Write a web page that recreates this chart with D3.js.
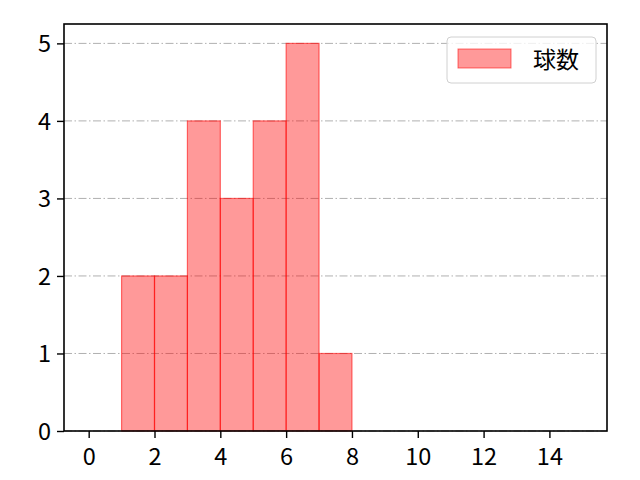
<!DOCTYPE html>
<html lang="ja">
<head>
<meta charset="UTF-8">
<title>球数</title>
<script src="https://d3js.org/d3.v7.min.js"></script>
<style>
  body { margin: 0; background: #fff; }
  svg { display: block; }
  .tick text { font-family: "Noto Sans CJK JP", sans-serif; font-size: 23.5px; fill: #000; }
  .grid line { stroke: #b0b0b0; stroke-width: 1; stroke-dasharray: 8 2.5 1.5 2.5; }
</style>
</head>
<body>
<svg width="640" height="480"></svg>
<script>
// histogram bins (left edge) and counts
const binStarts = [1, 2, 3, 4, 5, 6, 7];
const counts = [2, 2, 4, 3, 4, 5, 1];
const binWidth = 1;
const xTicks = [0, 2, 4, 6, 8, 10, 12, 14];
const yTicks = [0, 1, 2, 3, 4, 5];
const seriesName = "球数";

const svg = d3.select("svg");
const plotL = 64, plotR = 607, plotT = 24, plotB = 431;

const x = d3.scaleLinear().domain([-0.75, 15.75]).range([plotL, plotR]);
const y = d3.scaleLinear().domain([0, 5.25]).range([plotB, plotT]);

// gridlines (y only)
svg.append("g")
  .attr("class", "grid")
  .selectAll("line")
  .data(yTicks)
  .join("line")
  .attr("x1", plotL).attr("x2", plotR)
  .attr("y1", d => y(d)).attr("y2", d => y(d));

// bars
svg.append("g")
  .selectAll("rect")
  .data(binStarts.map((b, i) => ({ b, c: counts[i] })))
  .join("rect")
  .attr("x", d => x(d.b))
  .attr("y", d => y(d.c))
  .attr("width", d => x(d.b + binWidth) - x(d.b))
  .attr("height", d => y(0) - y(d.c))
  .attr("fill", "rgba(255,0,0,0.4)")
  .attr("stroke", "rgba(255,0,0,0.55)")
  .attr("stroke-width", 1.2);

// axes
const xAxis = svg.append("g")
  .attr("transform", `translate(0,${plotB})`)
  .call(d3.axisBottom(x).tickValues(xTicks).tickSize(7).tickFormat(d3.format("d")));
xAxis.selectAll(".tick text").attr("y", 33.5).attr("dy", 0);

const yAxis = svg.append("g")
  .attr("transform", `translate(${plotL},0)`)
  .call(d3.axisLeft(y).tickValues(yTicks).tickSize(7).tickFormat(d3.format("d")));
yAxis.selectAll(".tick text").attr("x", -13).attr("dy", "0.36em");

[xAxis, yAxis].forEach(a => {
  a.select(".domain").remove();
  a.selectAll(".tick line").attr("stroke", "#000").attr("stroke-width", 1.4);
});

// frame
svg.append("rect")
  .attr("x", plotL).attr("y", plotT)
  .attr("width", plotR - plotL).attr("height", plotB - plotT)
  .attr("fill", "none").attr("stroke", "#000").attr("stroke-width", 1.6);

// legend
const lg = svg.append("g").attr("transform", "translate(447,37)");
lg.append("rect")
  .attr("width", 149).attr("height", 46).attr("rx", 4)
  .attr("fill", "rgba(255,255,255,0.8)").attr("stroke", "#d0d0d0");
lg.append("rect")
  .attr("x", 11).attr("y", 12).attr("width", 53).attr("height", 19)
  .attr("fill", "rgba(255,0,0,0.4)").attr("stroke", "rgba(255,0,0,0.55)");
lg.append("text")
  .attr("x", 86).attr("y", 31)
  .attr("font-family", "'Noto Sans CJK JP', sans-serif")
  .attr("font-size", 23)
  .text(seriesName);
</script>
</body>
</html>
